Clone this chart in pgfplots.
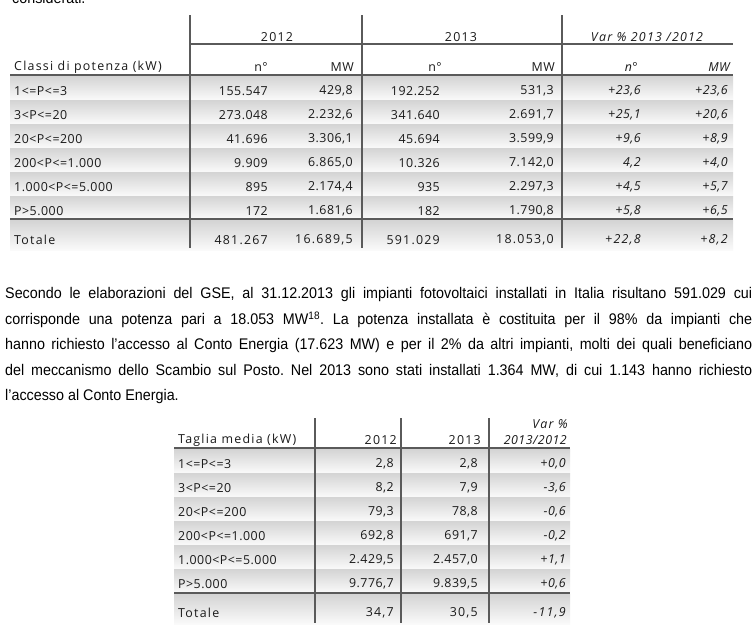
\documentclass[border=0pt]{standalone}
\usepackage{fontspec}
\usepackage{pgfplots}
\usepackage{pgfplotstable}
\pgfplotsset{compat=1.18}
\setmainfont{Open Sans}
\newfontfamily\tabfont[LetterSpace=4]{Open Sans}
\newfontfamily\tabwide[LetterSpace=10]{Open Sans}
\newfontfamily\bodyfont[FakeStretch=0.93]{Liberation Sans}
\definecolor{txt}{HTML}{1A1A1A}
\definecolor{rule}{HTML}{5A5A5A}
\frenchspacing

\pgfplotstableread{
y   cls            n12      mw12       n13      mw13       vn      vmw
91  1<=P<=3        155.547  429,8      192.252  531,3      +23,6   +23,6
115 3<P<=20        273.048  2.232,6    341.640  2.691,7    +25,1   +20,6
139 20<P<=200      41.696   3.306,1    45.694   3.599,9    +9,6    +8,9
163 200<P<=1.000   9.909    6.865,0    10.326   7.142,0    4,2     +4,0
187 1.000<P<=5.000 895      2.174,4    935      2.297,3    +4,5    +5,7
211 P>5.000        172      1.681,6    182      1.790,8    +5,8    +6,5
}\tabA
\pgfplotstableread{
y   cls     n12      mw12       n13      mw13       vn      vmw
240 Totale  481.267  16.689,5   591.029  18.053,0   +22,8   +8,2
}\totA
\pgfplotstableread{
y   cls            v12      v13      var
464 1<=P<=3        2,8      2,8      +0,0
488 3<P<=20        8,2      7,9      -3,6
512 20<P<=200      79,3     78,8     -0,6
536 200<P<=1.000   692,8    691,7    -0,2
560 1.000<P<=5.000 2.429,5  2.457,0  +1,1
584 P>5.000        9.776,7  9.839,5  +0,6
}\tabB
\pgfplotstableread{
y   cls     v12    v13    var
613 Totale  34,7   30,5   -11,9
}\totB

\newcommand\tfs{\fontsize{12.4}{14}\selectfont}
\pgfplotsset{
  cell/.style={only marks, mark=none, nodes near coords, point meta=explicit symbolic,
    every node near coord/.append style={anchor=#1, inner sep=0pt, text=txt,
      font=\tabfont\tfs}},
  celli/.style={cell=#1, every node near coord/.append style={font=\tabfont\tfs\itshape}},
  cellw/.style={cell=#1, every node near coord/.append style={font=\tabwide\tfs}},
  cellwi/.style={cell=#1, every node near coord/.append style={font=\tabwide\tfs\itshape}},
}
\tikzset{dl/.style={draw=rule, line width=1.2pt, dash pattern=on 0.5pt off 0.5pt},
  band/.style={top color=black!17, bottom color=black!2, draw=none},
  hd/.style={inner sep=0pt, text=txt, font=\tabfont\tfs},
  bl/.style={anchor=west, inner sep=0pt, font=\bodyfont\fontsize{15.4}{17}\selectfont}}

\begin{document}
\begin{tikzpicture}
\begin{axis}[x=1pt, y=1pt, y dir=reverse, xmin=0, xmax=756, ymin=0, ymax=637,
  hide axis, clip=false, scale only axis]
% background
\fill[white] (axis cs:0,0) rectangle (axis cs:756,637);
% ---------- table 1 bands
\fill[band] (axis cs:10,76) rectangle (axis cs:733,100);
\fill[band] (axis cs:10,100) rectangle (axis cs:733,124);
\fill[band] (axis cs:10,124) rectangle (axis cs:733,148);
\fill[band] (axis cs:10,148) rectangle (axis cs:733,172);
\fill[band] (axis cs:10,172) rectangle (axis cs:733,196);
\fill[band] (axis cs:10,196) rectangle (axis cs:733,219);
\fill[band] (axis cs:10,220) rectangle (axis cs:733,250);
% rules table 1
\draw[dl] (axis cs:190,44) -- (axis cs:733,44);
\draw[dl] (axis cs:10,75) -- (axis cs:733,75);
\draw[dl] (axis cs:10,219) -- (axis cs:733,219);
\draw[dl] (axis cs:190,15) -- (axis cs:190,248);
\draw[dl] (axis cs:362,15) -- (axis cs:362,248);
\draw[dl] (axis cs:562,15) -- (axis cs:562,248);
% headers table 1
\node[hd, font=\tabwide\tfs] at (axis cs:277,37) {2012};
\node[hd, font=\tabwide\tfs] at (axis cs:461,37) {2013};
\node[hd, font=\tabwide\tfs\itshape] at (axis cs:647,37) {Var \% 2013 /2012};
\node[hd, anchor=west, font=\tabwide\tfs] at (axis cs:14,67) {Classi di potenza (kW)};
\node[hd, anchor=east] at (axis cs:268,67) {n°};
\node[hd, anchor=east] at (axis cs:354,67) {MW};
\node[hd, anchor=east] at (axis cs:442,67) {n°};
\node[hd, anchor=east] at (axis cs:555,67) {MW};
\node[hd, anchor=east, font=\tabfont\tfs\itshape] at (axis cs:638,67) {n°};
\node[hd, anchor=east, font=\tabfont\tfs\itshape] at (axis cs:730,67) {MW};
% data table 1
\addplot[cell=west]  table[x expr=14,  y=y, meta=cls]  {\tabA};
\addplot[cell=east]  table[x expr=268, y=y, meta=n12]  {\tabA};
\addplot[cell=east]  table[x expr=353, y=y, meta=mw12] {\tabA};
\addplot[cell=east]  table[x expr=440, y=y, meta=n13]  {\tabA};
\addplot[cell=east]  table[x expr=554, y=y, meta=mw13] {\tabA};
\addplot[celli=east] table[x expr=641, y=y, meta=vn]   {\tabA};
\addplot[celli=east] table[x expr=728, y=y, meta=vmw]  {\tabA};
\addplot[cellw=west]  table[x expr=14,  y=y, meta=cls]  {\totA};
\addplot[cellw=east]  table[x expr=268, y=y, meta=n12]  {\totA};
\addplot[cellw=east]  table[x expr=353, y=y, meta=mw12] {\totA};
\addplot[cellw=east]  table[x expr=440, y=y, meta=n13]  {\totA};
\addplot[cellw=east]  table[x expr=554, y=y, meta=mw13] {\totA};
\addplot[cellwi=east] table[x expr=641, y=y, meta=vn]   {\totA};
\addplot[cellwi=east] table[x expr=728, y=y, meta=vmw]  {\totA};
% ---------- paragraph
\node[anchor=base west, inner sep=0pt, font=\bodyfont\fontsize{15.4}{17}\selectfont] at (axis cs:12,4) {considerati.};
\node[bl] at (axis cs:5,295) {\makebox[747pt][s]{Secondo le elaborazioni del GSE, al 31.12.2013 gli impianti fotovoltaici installati in Italia risultano 591.029 cui}};
\node[bl] at (axis cs:5,320) {\makebox[747pt][s]{corrisponde una potenza pari a 18.053 MW\textsuperscript{18}. La potenza installata è costituita per il 98\% da impianti che}};
\node[bl] at (axis cs:5,346) {\makebox[747pt][s]{hanno richiesto l’accesso al Conto Energia (17.623 MW) e per il 2\% da altri impianti, molti dei quali beneficiano}};
\node[bl] at (axis cs:5,371) {\makebox[747pt][s]{del meccanismo dello Scambio sul Posto. Nel 2013 sono stati installati 1.364 MW, di cui 1.143 hanno richiesto}};
\node[bl] at (axis cs:5,397) {l’accesso al Conto Energia.};
% ---------- table 2 bands
\fill[band] (axis cs:174,449) rectangle (axis cs:570,473);
\fill[band] (axis cs:174,473) rectangle (axis cs:570,497);
\fill[band] (axis cs:174,497) rectangle (axis cs:570,521);
\fill[band] (axis cs:174,521) rectangle (axis cs:570,545);
\fill[band] (axis cs:174,545) rectangle (axis cs:570,569);
\fill[band] (axis cs:174,569) rectangle (axis cs:570,593);
\fill[band] (axis cs:174,594) rectangle (axis cs:570,624);
\draw[dl] (axis cs:174,448) -- (axis cs:570,448);
\draw[dl] (axis cs:174,593) -- (axis cs:570,593);
\draw[dl] (axis cs:315,418) -- (axis cs:315,623);
\draw[dl] (axis cs:401,418) -- (axis cs:401,623);
\draw[dl] (axis cs:489,418) -- (axis cs:489,623);
\node[hd, anchor=west, font=\tabwide\tfs] at (axis cs:178,440) {Taglia media (kW)};
\node[hd, anchor=east, font=\tabwide\tfs] at (axis cs:397,440) {2012};
\node[hd, anchor=east, font=\tabwide\tfs] at (axis cs:481,440) {2013};
\node[hd, anchor=east, font=\tabwide\tfs\itshape] at (axis cs:568,424) {Var \%};
\node[hd, anchor=east, font=\tabfont\tfs\itshape] at (axis cs:567,440) {2013/2012};
\addplot[cell=west]  table[x expr=178, y=y, meta=cls] {\tabB};
\addplot[cell=east]  table[x expr=394, y=y, meta=v12] {\tabB};
\addplot[cell=east]  table[x expr=478, y=y, meta=v13] {\tabB};
\addplot[celli=east] table[x expr=566, y=y, meta=var] {\tabB};
\addplot[cellw=west]  table[x expr=178, y=y, meta=cls] {\totB};
\addplot[cellw=east]  table[x expr=394, y=y, meta=v12] {\totB};
\addplot[cellw=east]  table[x expr=478, y=y, meta=v13] {\totB};
\addplot[cellwi=east] table[x expr=566, y=y, meta=var] {\totB};
\coordinate (TL) at (axis cs:0,0);
\coordinate (BR) at (axis cs:756,637);
\end{axis}
\pgfresetboundingbox
\path[use as bounding box] (TL) rectangle (BR);
\end{tikzpicture}
\end{document}
